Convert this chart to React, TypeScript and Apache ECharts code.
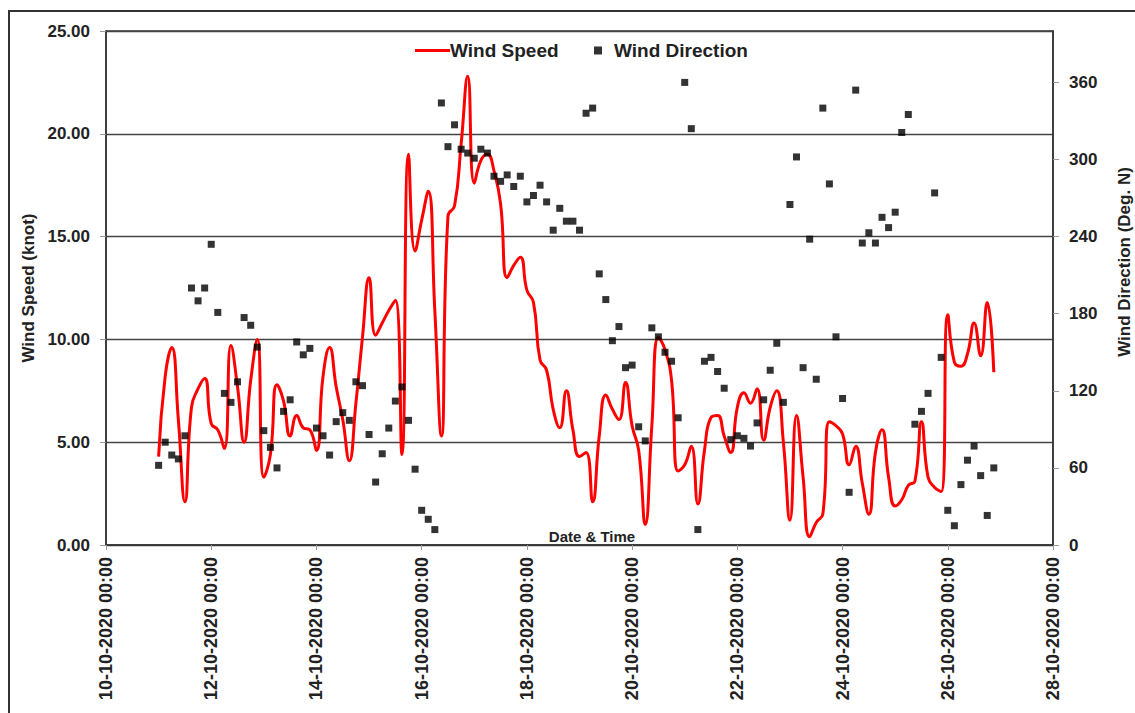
import React, { useEffect, useRef } from "react";
import * as echarts from "echarts";

// Sampling: every 3 hours starting 11-10-2020 00:00 (x axis counts days from 10-10-2020 00:00)
const FIRST_SAMPLE_DAY = 1;
const SAMPLE_STEP_DAYS = 3 / 24;

// Wind speed (knot), 3-hourly
const windSpeed: number[] = [
  4.3, 8.2, 9.6, 6.1, 2.1, 6.7, 7.6, 8.1, 5.9, 5.6, 4.7, 9.7, 7.7, 5.0, 8.0, 10.0,
  3.3, 4.4, 7.8, 7.0, 5.3, 6.3, 5.7, 5.6, 4.6, 8.2, 9.6, 7.7, 6.1, 4.1, 6.9, 10.1,
  13.0, 10.2, 10.8, 11.4, 11.9, 4.4, 19.0, 14.3, 15.8, 17.2, 11.4, 5.3, 16.0, 16.5,
  19.5, 22.8, 17.6, 18.7, 19.0, 18.2, 16.6, 13.0, 13.6, 14.0, 12.4, 11.8, 9.0, 8.5,
  6.6, 5.7, 7.5, 5.6, 4.3, 4.5, 2.1, 5.3, 7.3, 6.6, 6.1, 7.9, 5.8, 4.6, 1.0, 5.8,
  10.1, 9.5, 8.0, 3.6, 3.9, 4.8, 2.0, 4.6, 6.2, 6.3, 5.3, 4.5, 6.7, 7.4, 6.9, 7.6,
  5.1, 6.7, 7.5, 5.0, 1.2, 6.3, 3.3, 0.4, 1.1, 1.5, 6.0, 5.8, 5.4, 3.9, 4.8, 3.0,
  1.5, 4.5, 5.6, 3.3, 1.9, 2.2, 2.9, 3.1, 6.0, 3.3, 2.8, 2.6, 11.2, 8.9, 8.7, 9.3,
  10.8, 9.2, 11.8, 8.4,
];

// Wind direction (degrees from north), 3-hourly
const windDirection: number[] = [
  62, 80, 70, 67, 85, 200, 190, 200, 234, 181, 118, 111, 127, 177, 171, 154,
  89, 76, 60, 104, 113, 158, 148, 153, 91, 85, 70, 96, 103, 97, 127, 124,
  86, 49, 71, 91, 112, 123, 97, 59, 27, 20, 12, 344, 310, 327,
  308, 305, 301, 308, 305, 287, 283, 288, 279, 287, 267, 272, 280, 267,
  245, 262, 252, 252, 245, 336, 340, 211, 191, 159, 170, 138, 140, 92, 81, 169,
  162, 150, 143, 99, 360, 324, 12, 143, 146, 135, 122, 82, 85, 83, 77, 95,
  113, 136, 157, 111, 265, 302, 138, 238, 129, 340, 281, 162, 114, 41, 354, 235,
  243, 235, 255, 247, 259, 321, 335, 94, 104, 118, 274, 146, 27, 15, 47, 66,
  77, 54, 23, 60,
];

// Axis ranges and ticks
const xAxisDays = { min: 0, max: 18, interval: 2 };
const speedTicks = { min: 0, max: 25, interval: 5 };
const directionTicks = { min: 0, max: 400, interval: 60 };

const sampleDay = (i: number) => FIRST_SAMPLE_DAY + i * SAMPLE_STEP_DAYS;

const dayLabel = (d: number) => {
  const day = 10 + Math.round(d);
  return `${String(day).padStart(2, "0")}-10-2020 00:00`;
};

const FONT = "'Liberation Sans', Arial, sans-serif";

export default function App() {
  const ref = useRef<HTMLDivElement>(null);

  useEffect(() => {
    if (!ref.current) return;
    const chart = echarts.init(ref.current, undefined, { renderer: "svg" });

    const speedData = windSpeed.map((v, i) => [sampleDay(i), v]);
    const dirData = windDirection.map((v, i) => [sampleDay(i), v]);

    chart.setOption({
      animation: false,
      backgroundColor: "#ffffff",
      textStyle: { fontFamily: FONT },
      grid: {
        left: 106,
        right: 82,
        top: 31,
        bottom: 168,
        show: true,
        borderColor: "#333",
        borderWidth: 1.5,
        backgroundColor: "transparent",
      },
      legend: [
        {
          data: [{ name: "Wind Speed", icon: "rect" }],
          left: 410,
          top: 36,
          itemWidth: 35,
          itemHeight: 3,
          textStyle: { fontFamily: FONT, fontWeight: "bold", fontSize: 19, color: "#222", padding: [0, 0, 0, -5] },
        },
        {
          data: [{ name: "Wind Direction", icon: "rect" }],
          left: 589,
          top: 36,
          itemWidth: 8,
          itemHeight: 8,
          textStyle: { fontFamily: FONT, fontWeight: "bold", fontSize: 19, color: "#222", padding: [0, 0, 0, 7] },
        },
      ],
      graphic: [
        {
          type: "rect",
          shape: { x: 9, y: 11, width: 1140, height: 720 },
          style: { fill: "none", stroke: "#333", lineWidth: 2 },
          silent: true,
        },
        {
          type: "text",
          x: 592,
          y: 536,
          style: {
            text: "Date & Time",
            fontFamily: FONT,
            fontWeight: "bold",
            fontSize: 15,
            fill: "#222",
            align: "center",
            verticalAlign: "middle",
          },
          z: 10,
        },
        {
          type: "text",
          x: 1124,
          y: 262,
          rotation: Math.PI / 2,
          style: {
            text: "Wind Direction (Deg. N)",
            fontFamily: FONT,
            fontWeight: "bold",
            fontSize: 17,
            fill: "#222",
            align: "center",
            verticalAlign: "middle",
          },
          z: 10,
        },
      ],
      xAxis: {
        type: "value",
        min: xAxisDays.min,
        max: xAxisDays.max,
        interval: xAxisDays.interval,
        axisLine: { show: true, lineStyle: { color: "#333", width: 1.5 } },
        axisTick: { show: true, length: 5, lineStyle: { color: "#999" } },
        splitLine: { show: false },
        axisLabel: {
          rotate: 90,
          margin: 12,
          formatter: (v: number) => dayLabel(v),
          fontFamily: FONT,
          fontWeight: "bold",
          fontSize: 18,
          color: "#222",
        },
      },
      yAxis: [
        {
          type: "value",
          position: "left",
          min: speedTicks.min,
          max: speedTicks.max,
          interval: speedTicks.interval,
          name: "Wind Speed (knot)",
          nameLocation: "middle",
          nameRotate: 90,
          nameGap: 66,
          nameTextStyle: { fontFamily: FONT, fontWeight: "bold", fontSize: 17, color: "#222" },
          axisLine: { show: true, lineStyle: { color: "#333", width: 1.5 } },
          axisTick: { show: true, length: 6, lineStyle: { color: "#999" } },
          splitLine: { show: true, lineStyle: { color: "#444", width: 1.3 } },
          axisLabel: {
            margin: 16,
            formatter: (v: number) => v.toFixed(2),
            fontFamily: FONT,
            fontWeight: "bold",
            fontSize: 17,
            color: "#222",
          },
        },
        {
          type: "value",
          position: "right",
          min: directionTicks.min,
          max: directionTicks.max,
          interval: directionTicks.interval,
          axisLine: { show: true, lineStyle: { color: "#333", width: 1.5 } },
          axisTick: { show: true, length: 6, lineStyle: { color: "#999" } },
          splitLine: { show: false },
          axisLabel: {
            margin: 16,
            showMaxLabel: false,
            formatter: (v: number) => (v > 360 ? "" : String(v)),
            fontFamily: FONT,
            fontWeight: "bold",
            fontSize: 17,
            color: "#222",
          },
        },
      ],
      series: [
        {
          name: "Wind Speed",
          type: "line",
          yAxisIndex: 0,
          data: speedData,
          smooth: 0.5,
          showSymbol: false,
          symbol: "none",
          lineStyle: { color: "#ff0000", width: 3 },
          itemStyle: { color: "#ff0000" },
          z: 2,
        },
        {
          name: "Wind Direction",
          type: "scatter",
          yAxisIndex: 1,
          data: dirData,
          symbol: "rect",
          symbolSize: 7,
          itemStyle: { color: "#000000" },
          z: 3,
        },
      ],
    });

    return () => chart.dispose();
  }, []);

  return (
    <div
      ref={ref}
      style={{ position: "fixed", left: 0, top: 0, width: 1135, height: 713, background: "#fff" }}
    />
  );
}
